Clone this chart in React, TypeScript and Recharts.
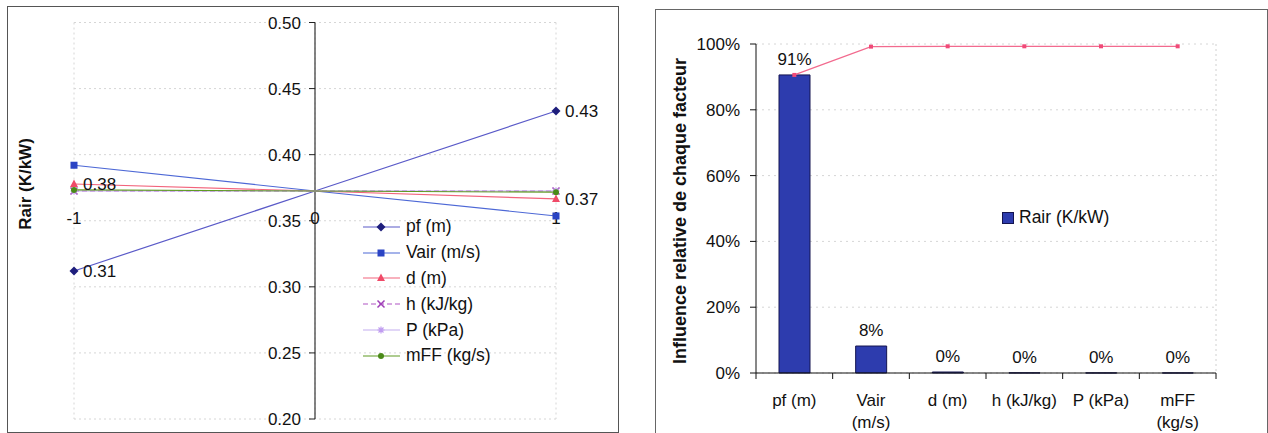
import React from 'react';
import {
  ComposedChart,
  LineChart,
  Line,
  Bar,
  XAxis,
  YAxis,
  CartesianGrid,
  Legend,
  LabelList,
  ReferenceLine,
  ReferenceDot,
} from 'recharts';

const FONT = '"Liberation Sans", Arial, sans-serif';

// Left chart: Rair (K/kW) at levels -1 / 0 / +1 of each factor
const levels = [-1, 0, 1];
const pfValues = [0.312, 0.3725, 0.433];
const vairValues = [0.392, 0.3725, 0.3536];
const dValues = [0.3778, 0.3725, 0.3665];
const hValues = [0.3725, 0.3725, 0.3725];
const pValues = [0.3725, 0.3725, 0.3725];
const mffValues = [0.3733, 0.3725, 0.3716];
const rairTicks = [0.2, 0.25, 0.3, 0.35, 0.4, 0.45, 0.5];

// Right chart: relative influence of each factor (%)
const factors = ['pf (m)', 'Vair\n(m/s)', 'd (m)', 'h (kJ/kg)', 'P (kPa)', 'mFF\n(kg/s)'];
const influence = [90.6, 8.2, 0.3, 0.05, 0.03, 0.02];
const cumulative = [90.6, 99.2, 99.3, 99.3, 99.3, 99.3];
const percentTicks = [0, 20, 40, 60, 80, 100];

const leftSeries = [
  { key: 'pf', name: 'pf (m)', values: pfValues, line: '#5a5ac8', mark: '#1e1e7c', shape: 'diamond', dash: undefined },
  { key: 'vair', name: 'Vair (m/s)', values: vairValues, line: '#4d68d6', mark: '#2b44c4', shape: 'square', dash: undefined },
  { key: 'd', name: 'd (m)', values: dValues, line: '#f2647c', mark: '#f04a68', shape: 'triangle', dash: undefined },
  { key: 'h', name: 'h (kJ/kg)', values: hValues, line: '#b055c4', mark: '#a040b8', shape: 'cross', dash: '5 3' },
  { key: 'p', name: 'P (kPa)', values: pValues, line: '#c4aef0', mark: '#c09cf0', shape: 'star', dash: undefined },
  { key: 'mff', name: 'mFF (kg/s)', values: mffValues, line: '#5f9a22', mark: '#4a8a18', shape: 'circle', dash: undefined },
];

const leftData = levels.map((x, i) => {
  const row: Record<string, number> = { x };
  leftSeries.forEach((s) => {
    row[s.key] = s.values[i];
  });
  return row;
});

const rightData = factors.map((name, i) => ({
  name,
  share: influence[i],
  cumul: cumulative[i],
}));

const RIGHT_W = 613;
const RIGHT_H = 424;
const RIGHT_MARGIN = { top: 35, right: 51, bottom: 0, left: 0 };
const RIGHT_YAXIS_W = 101;
const band = (RIGHT_W - RIGHT_MARGIN.right - 1 - RIGHT_YAXIS_W) / factors.length;

function Marker({ shape, cx, cy, color }: any) {
  switch (shape) {
    case 'diamond':
      return <path d={`M${cx} ${cy - 4.5}L${cx + 4.5} ${cy}L${cx} ${cy + 4.5}L${cx - 4.5} ${cy}Z`} fill={color} />;
    case 'square':
      return <rect x={cx - 3.5} y={cy - 3.5} width={7} height={7} fill={color} />;
    case 'triangle':
      return <path d={`M${cx} ${cy - 4.5}L${cx + 4} ${cy + 3}L${cx - 4} ${cy + 3}Z`} fill={color} />;
    case 'cross':
      return (
        <path
          d={`M${cx - 3.5} ${cy - 3.5}L${cx + 3.5} ${cy + 3.5}M${cx + 3.5} ${cy - 3.5}L${cx - 3.5} ${cy + 3.5}`}
          stroke={color}
          strokeWidth={1.5}
        />
      );
    case 'star':
      return (
        <path
          d={`M${cx - 3.5} ${cy}L${cx + 3.5} ${cy}M${cx} ${cy - 3.5}L${cx} ${cy + 3.5}M${cx - 2.5} ${cy - 2.5}L${cx + 2.5} ${cy + 2.5}M${cx + 2.5} ${cy - 2.5}L${cx - 2.5} ${cy + 2.5}`}
          stroke={color}
          strokeWidth={1.2}
        />
      );
    default:
      return <circle cx={cx} cy={cy} r={3} fill={color} />;
  }
}

// value labels only at the two ends (-1 and +1)
const endLabel = (p: any) => {
  if (p.index === 1) return null;
  return (
    <text x={p.x + 9} y={p.y} dy={6} fontSize={17} fill="#111" fontFamily={FONT}>
      {Number(p.value).toFixed(2)}
    </text>
  );
};

const LeftLegend = () => (
  <div style={{ fontFamily: FONT, fontSize: 17.5, color: '#111' }}>
    {leftSeries.map((s) => (
      <div key={s.key} style={{ display: 'flex', alignItems: 'center', height: 25.8, whiteSpace: 'nowrap' }}>
        <svg width={43} height={14} style={{ flex: 'none' }}>
          <line x1={0} y1={7} x2={37} y2={7} stroke={s.line} strokeWidth={1.2} strokeDasharray={s.dash} />
          <Marker shape={s.shape} cx={18} cy={7} color={s.mark} />
        </svg>
        <span>{s.name}</span>
      </div>
    ))}
  </div>
);

const RightLegend = () => (
  <div style={{ fontFamily: FONT, fontSize: 17.5, color: '#111', display: 'flex', alignItems: 'center', whiteSpace: 'nowrap' }}>
    <span style={{ width: 10, height: 10, background: '#2d3cae', border: '1px solid #141450', marginRight: 5, display: 'inline-block' }} />
    <span>Rair (K/kW)</span>
  </div>
);

function FactorTick({ x, y, payload, index }: any) {
  const lines = String(payload.value).split('\n');
  return (
    <g>
      <line x1={x + band / 2} y1={y} x2={x + band / 2} y2={y + 6} stroke="#111" />
      {index === 0 && <line x1={x - band / 2} y1={y} x2={x - band / 2} y2={y + 6} stroke="#111" />}
      <text x={x} y={y + 33} textAnchor="middle" fontSize={17} fill="#111" fontFamily={FONT}>
        {lines.map((l, i) => (
          <tspan key={i} x={x} dy={i === 0 ? 0 : 22}>
            {l}
          </tspan>
        ))}
      </text>
    </g>
  );
}

const titleStyle = (cx: number, cy: number, size: number): React.CSSProperties => ({
  position: 'absolute',
  left: cx,
  top: cy,
  transform: 'translate(-50%, -50%) rotate(-90deg)',
  whiteSpace: 'nowrap',
  fontFamily: FONT,
  fontWeight: 'bold',
  fontSize: size,
  color: '#111',
});

export default function App() {
  return (
    <div style={{ position: 'absolute', left: 0, top: 0, width: 1268, height: 433, background: '#fff', overflow: 'hidden' }}>
      {/* left panel */}
      <div style={{ position: 'absolute', left: 7, top: 6, width: 612, height: 427, border: '1px solid #555', boxSizing: 'border-box' }}>
        <div style={{ position: 'absolute', left: -1, top: -1 }}>
          <LineChart width={612} height={427} data={leftData} margin={{ top: 16.5, right: 63, bottom: 14, left: 67 }}>
            <CartesianGrid stroke="#d6d6d6" strokeDasharray="2 3" />
            <XAxis type="number" dataKey="x" domain={[-1, 1]} ticks={levels} hide />
            <YAxis type="number" domain={[0.2, 0.5]} ticks={rairTicks} hide />
            <ReferenceLine x={0} stroke="#333" strokeWidth={1.2} />
            {rairTicks.map((v) => (
              <ReferenceDot
                key={`yt${v}`}
                x={0}
                y={v}
                r={0}
                shape={(p: any) => (
                  <g>
                    <line x1={p.cx - 6} y1={p.cy} x2={p.cx} y2={p.cy} stroke="#222" />
                    <text x={p.cx - 14} y={p.cy + 6} textAnchor="end" fontSize={17} fill="#111" fontFamily={FONT}>
                      {v.toFixed(2)}
                    </text>
                  </g>
                )}
              />
            ))}
            {levels.map((lv) => (
              <ReferenceDot
                key={`xt${lv}`}
                x={lv}
                y={0.35}
                r={0}
                shape={(p: any) => (
                  <text x={p.cx} y={p.cy + 3} textAnchor="middle" fontSize={17} fill="#111" fontFamily={FONT}>
                    {lv}
                  </text>
                )}
              />
            ))}
            {leftSeries.map((s) => (
              <Line
                key={s.key}
                type="linear"
                dataKey={s.key}
                name={s.name}
                stroke={s.line}
                strokeWidth={1.2}
                strokeDasharray={s.dash}
                activeDot={false}
                isAnimationActive={false}
                dot={(p: any) =>
                  p.index === 1 ? (
                    <g key={`${s.key}${p.index}`} />
                  ) : (
                    <Marker key={`${s.key}${p.index}`} shape={s.shape} cx={p.cx} cy={p.cy} color={s.mark} />
                  )
                }
              >
                {(s.key === 'pf' || s.key === 'd') && <LabelList dataKey={s.key} content={endLabel} />}
              </Line>
            ))}
            <Legend
              layout="vertical"
              align="center"
              verticalAlign="middle"
              content={() => <LeftLegend />}
              wrapperStyle={{ position: 'absolute', left: 356, top: 208, width: 'auto' }}
            />
          </LineChart>
        </div>
        <div style={titleStyle(18, 177, 17)}>Rair (K/kW)</div>
      </div>

      {/* right panel */}
      <div style={{ position: 'absolute', left: 655, top: 9, width: 613, height: 440, border: '1px solid #666', boxSizing: 'border-box' }}>
        <div style={{ position: 'absolute', left: -1, top: -1 }}>
          <ComposedChart width={RIGHT_W} height={RIGHT_H} data={rightData} margin={RIGHT_MARGIN} barCategoryGap="30%">
            <CartesianGrid vertical={false} stroke="#d6d6d6" strokeDasharray="2 4" />
            <XAxis
              dataKey="name"
              height={60}
              interval={0}
              axisLine={{ stroke: '#111' }}
              tickLine={false}
              tickSize={0}
              tickMargin={0}
              tick={<FactorTick />}
            />
            <YAxis
              domain={[0, 100]}
              ticks={percentTicks}
              width={RIGHT_YAXIS_W}
              tickFormatter={(v: number) => `${v}%`}
              tickSize={6}
              tickMargin={10}
              axisLine={{ stroke: '#111' }}
              tickLine={{ stroke: '#111' }}
              tick={{ fill: '#111', fontSize: 17, fontFamily: FONT }}
            />
            <YAxis
              yAxisId="frame"
              orientation="right"
              domain={[0, 100]}
              width={1}
              tick={false}
              tickLine={false}
              axisLine={{ stroke: '#d0d0d0', strokeDasharray: '2 3' }}
            />
            <Bar dataKey="share" fill="#2d3cae" stroke="#141450" strokeWidth={1} isAnimationActive={false}>
              <LabelList
                dataKey="share"
                position="top"
                offset={10}
                formatter={(v: any) => `${Math.round(Number(v))}%`}
                fill="#111"
                fontSize={17}
                fontFamily={FONT}
              />
            </Bar>
            <Line
              type="linear"
              dataKey="cumul"
              stroke="#f26a8e"
              strokeWidth={1.2}
              activeDot={false}
              isAnimationActive={false}
              dot={(p: any) => <rect key={`c${p.index}`} x={p.cx - 2} y={p.cy - 2} width={4} height={4} fill="#f04a78" />}
            />
            <Legend
              layout="vertical"
              align="center"
              verticalAlign="middle"
              content={() => <RightLegend />}
              wrapperStyle={{ position: 'absolute', left: 347, top: 198, width: 'auto' }}
            />
          </ComposedChart>
        </div>
        <div style={titleStyle(24, 201, 18)}>Influence relative de chaque facteur</div>
      </div>
    </div>
  );
}
